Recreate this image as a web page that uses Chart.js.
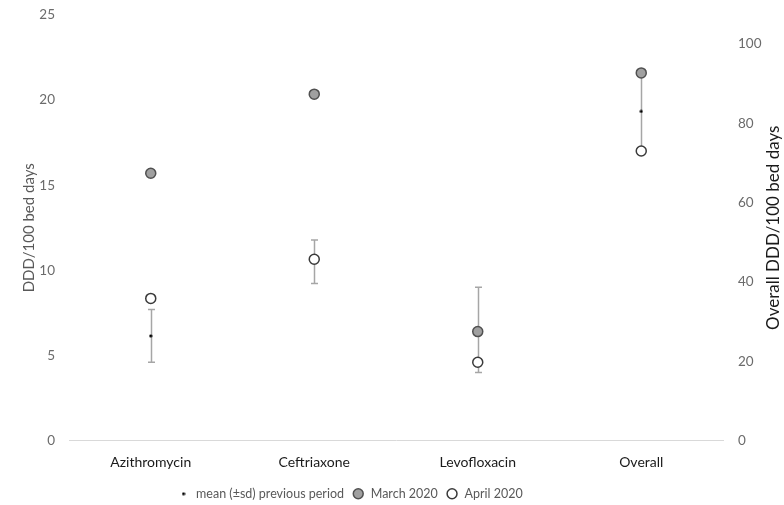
<!DOCTYPE html>
<html>
<head>
<meta charset="utf-8">
<script src="https://cdn.jsdelivr.net/npm/chart.js@4/dist/chart.umd.min.js"></script>
<style>
  html, body { margin: 0; padding: 0; background: #fff; }
  #wrap { width: 784px; height: 505px; position: relative; }
</style>
</head>
<body>
<div id="wrap"><canvas id="c" width="784" height="505"></canvas></div>
<script>
// ---- data ----
const categories = ['Azithromycin', 'Ceftriaxone', 'Levofloxacin', 'Overall'];
const onRightAxis = [false, false, false, true];
const march2020 = [15.7, 20.35, 6.4, 92.7];
const april2020 = [8.35, 10.65, 4.6, 73.0];
const meanPrevious = [6.15, 10.5, 6.5, 83.0];
const sdPrevious = [1.55, 1.28, 2.5, 9.8];
const leftTicks = [0, 5, 10, 15, 20, 25];
const rightTicks = [0, 20, 40, 60, 80, 100];

const FONT = 'Lato, "Open Sans", sans-serif';

function leftPart(arr) { return arr.map((v, i) => onRightAxis[i] ? null : v); }
function rightPart(arr) { return arr.map((v, i) => onRightAxis[i] ? v : null); }

// tiny dot used for the mean marker (points and legend)
const dot = document.createElement('canvas');
dot.width = 4; dot.height = 4;
(function () {
  const d = dot.getContext('2d');
  d.fillStyle = '#000';
  d.beginPath(); d.arc(2, 2, 1.6, 0, Math.PI * 2); d.fill();
})();

const errorBars = {
  id: 'errorBars',
  beforeDatasetsDraw(chart) {
    const ctx = chart.ctx;
    const xs = chart.scales.x;
    ctx.save();
    ctx.strokeStyle = '#a6a6a6';
    ctx.lineWidth = 1.5;
    meanPrevious.forEach((m, i) => {
      const ys = chart.scales[onRightAxis[i] ? 'y2' : 'y'];
      const px = Math.round(xs.getPixelForValue(i)) + 0.5;
      const top = ys.getPixelForValue(m + sdPrevious[i]);
      const bot = ys.getPixelForValue(m - sdPrevious[i]);
      ctx.beginPath();
      ctx.moveTo(px, top); ctx.lineTo(px, bot);
      ctx.moveTo(px - 3.5, top); ctx.lineTo(px + 3.5, top);
      ctx.moveTo(px - 3.5, bot); ctx.lineTo(px + 3.5, bot);
      ctx.stroke();
    });
    ctx.restore();
  }
};

const rightTitle = {
  id: 'rightTitle',
  afterDraw(chart) {
    const ctx = chart.ctx;
    const a = chart.chartArea;
    ctx.save();
    ctx.translate(774, (a.top + a.bottom) / 2);
    ctx.rotate(-Math.PI / 2);
    ctx.fillStyle = '#1a1a1a';
    ctx.font = '17px ' + FONT;
    ctx.textAlign = 'center';
    ctx.textBaseline = 'middle';
    ctx.fillText('Overall DDD/100 bed days', 0, 0);
    ctx.restore();
  }
};

const legendShift = {
  id: 'legendShift',
  afterLayout(chart) {
    const lg = chart.legend;
    if (lg) {
      lg.left -= 50; lg.right -= 50;
      lg.top += 5; lg.bottom += 5;
    }
  }
};

function noVPad(s) { s.paddingTop = 0; s.paddingBottom = 0; }

const marchStyle = { pointBackgroundColor: '#a0a0a0', pointBorderColor: '#505050', backgroundColor: '#a0a0a0', borderColor: '#505050', pointBorderWidth: 1.5, pointRadius: 5, pointHoverRadius: 5 };
const aprilStyle = { pointBackgroundColor: '#ffffff', pointBorderColor: '#3a3a3a', backgroundColor: '#ffffff', borderColor: '#3a3a3a', pointBorderWidth: 1.5, pointRadius: 5, pointHoverRadius: 5 };
const meanStyle = { pointStyle: dot, pointRadius: 2, backgroundColor: '#000', borderColor: '#000', pointBorderWidth: 0 };

new Chart(document.getElementById('c'), {
  type: 'line',
  data: {
    labels: categories,
    datasets: [
      Object.assign({ label: 'mean (±sd) previous period', data: leftPart(meanPrevious), yAxisID: 'y', showLine: false, order: 3 }, meanStyle),
      Object.assign({ label: '_mean_overall', data: rightPart(meanPrevious), yAxisID: 'y2', showLine: false, order: 3 }, meanStyle),
      Object.assign({ label: 'March 2020', data: leftPart(march2020), yAxisID: 'y', showLine: false, order: 1 }, marchStyle),
      Object.assign({ label: '_march_overall', data: rightPart(march2020), yAxisID: 'y2', showLine: false, order: 1 }, marchStyle),
      Object.assign({ label: 'April 2020', data: leftPart(april2020), yAxisID: 'y', showLine: false, order: 1 }, aprilStyle),
      Object.assign({ label: '_april_overall', data: rightPart(april2020), yAxisID: 'y2', showLine: false, order: 1 }, aprilStyle)
    ]
  },
  options: {
    responsive: false,
    animation: false,
    events: [],
    layout: { padding: { top: 15, left: 16, right: 0, bottom: 0 } },
    plugins: {
      tooltip: { enabled: false },
      legend: {
        position: 'bottom',
        labels: {
          usePointStyle: true,
          boxHeight: 7,
          padding: 8,
          color: '#595959',
          font: { family: FONT, size: 12.5 },
          filter: (item) => !item.text.startsWith('_'),
          sort: (a, b) => a.datasetIndex - b.datasetIndex
        }
      }
    },
    scales: {
      x: {
        type: 'category',
        offset: true,
        grid: { display: false, drawTicks: false },
        border: { display: true, color: '#d9d9d9', width: 1 },
        ticks: { color: '#1a1a1a', font: { family: FONT, size: 14 }, padding: 14, maxRotation: 0 },
        afterFit(s) { s.height = 34; }
      },
      y: {
        position: 'left',
        min: 0, max: 25,
        grid: { display: false, drawTicks: false },
        border: { display: false },
        afterBuildTicks(s) { s.ticks = leftTicks.map(v => ({ value: v })); },
        ticks: { color: '#6b6b6b', font: { family: FONT, size: 13.5 }, padding: 14 },
        title: { display: true, text: 'DDD/100 bed days', color: '#595959', font: { family: FONT, size: 15 }, padding: { top: 4, bottom: 4 } },
        afterFit(s) { s.width = 53; noVPad(s); }
      },
      y2: {
        position: 'right',
        min: 0, max: 107.3,
        grid: { display: false, drawTicks: false },
        border: { display: false },
        afterBuildTicks(s) { s.ticks = rightTicks.map(v => ({ value: v })); },
        ticks: { color: '#6b6b6b', font: { family: FONT, size: 13.5 }, padding: 15 },
        afterFit(s) { s.width = 61; noVPad(s); }
      }
    }
  },
  plugins: [errorBars, rightTitle, legendShift]
});
</script>
</body>
</html>
